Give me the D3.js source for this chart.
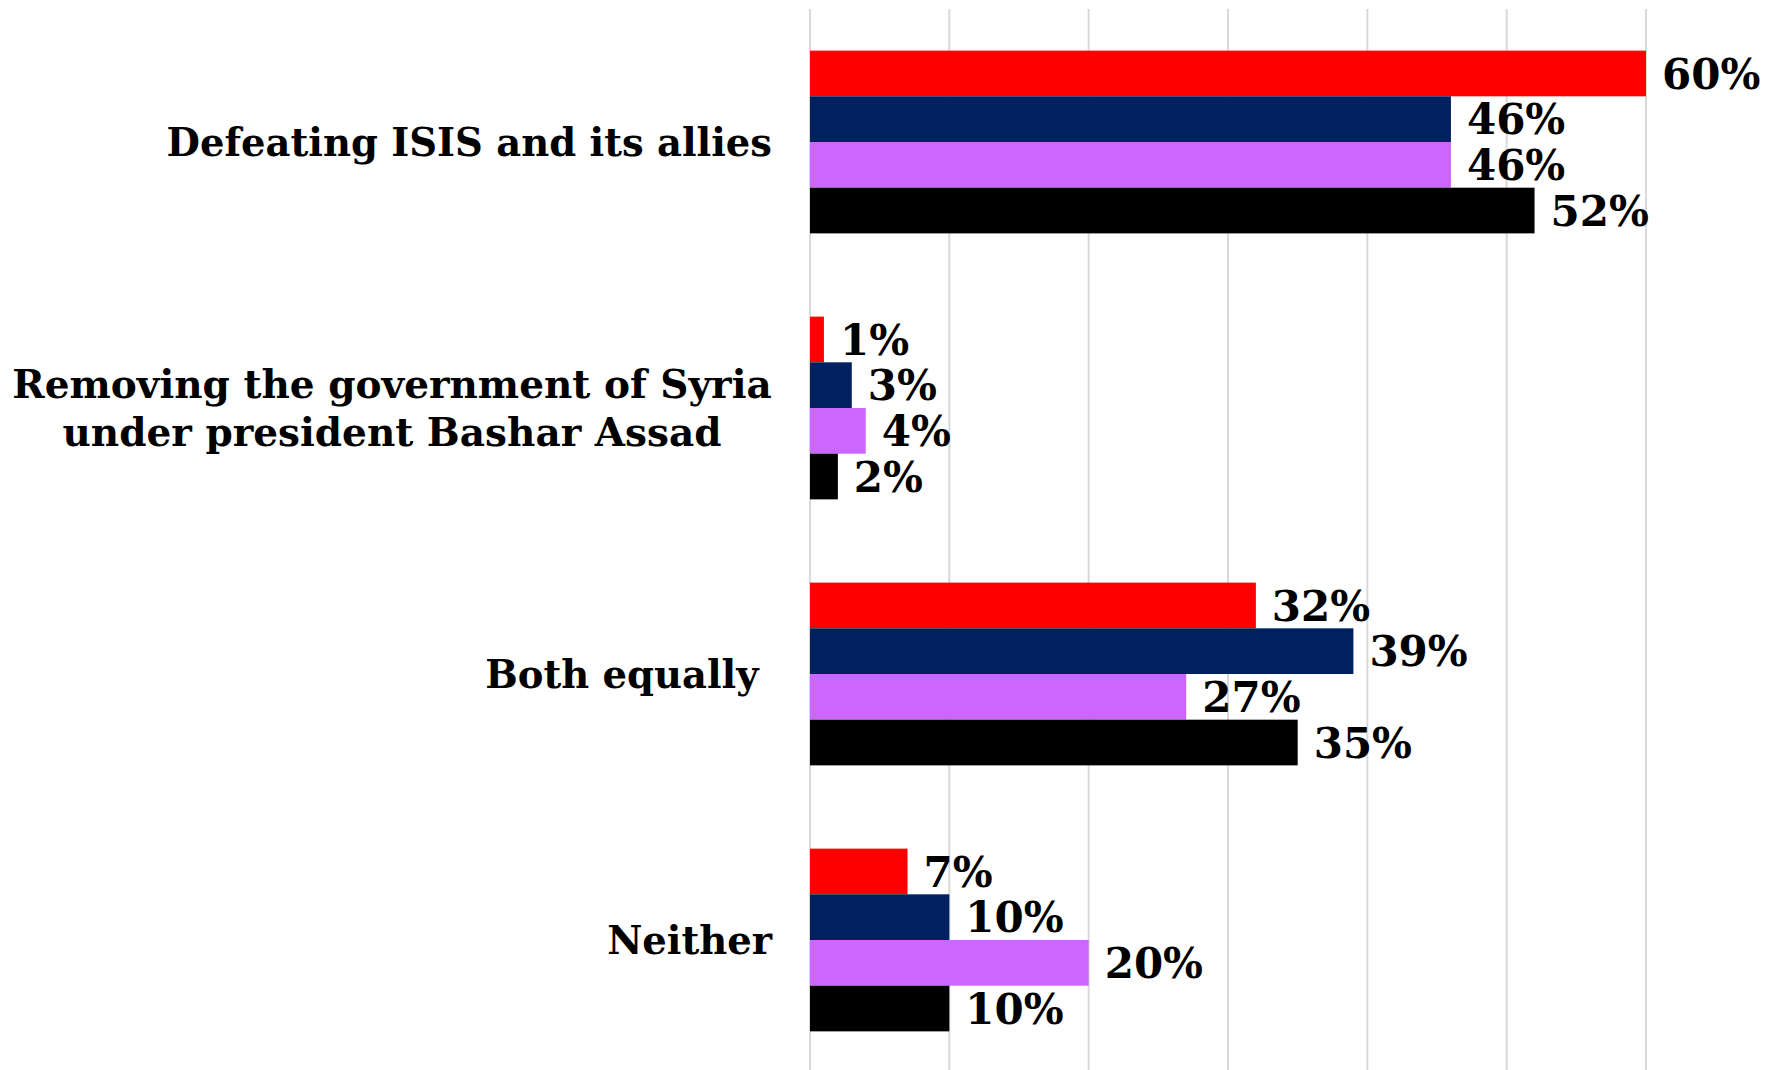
<!DOCTYPE html>
<html>
<head>
<meta charset="utf-8">
<script src="https://cdn.jsdelivr.net/npm/d3@7"></script>
<style>
  html, body { margin: 0; padding: 0; background: #fff; }
  svg { display: block; }
  text { white-space: pre; }
</style>
</head>
<body>
<svg id="chart" width="1790" height="1070"></svg>
<script>
// ---- data ----
const categories = [
  ["Defeating ISIS and its allies"],
  ["Removing the government of Syria", "under president Bashar Assad"],
  ["Both equally "],
  ["Neither"]
];
const seriesNames = ["Series 1", "Series 2", "Series 3", "Series 4"];
const seriesColors = ["#FF0000", "#002060", "#CC66FF", "#000000"];
const series1 = [60, 1, 32, 7];
const series2 = [46, 3, 39, 10];
const series3 = [46, 4, 27, 20];
const series4 = [52, 2, 35, 10];
const xTicks = [0, 10, 20, 30, 40, 50, 60];

const seriesValues = [series1, series2, series3, series4];
const catKeys = categories.map((c, i) => "c" + i);

const svg = d3.select("#chart");

const x = d3.scaleLinear().domain([0, 60]).range([810, 1646]);
const y = d3.scaleBand().domain(catKeys).range([9, 1073])
  .paddingInner(0.313).paddingOuter(0.1565);
const ys = d3.scaleBand().domain(seriesNames).range([0, y.bandwidth()]);

// gridlines
svg.append("g").selectAll("line").data(xTicks).join("line")
  .attr("x1", d => x(d)).attr("x2", d => x(d))
  .attr("y1", 9).attr("y2", 1070)
  .attr("stroke", "#d9d9d9").attr("stroke-width", 2);

// bars
const groups = svg.append("g").selectAll("g").data(catKeys).join("g")
  .attr("transform", d => `translate(0,${y(d)})`);

groups.each(function(k, ci) {
  const g = d3.select(this);
  seriesNames.forEach((s, si) => {
    const v = seriesValues[si][ci];
    g.append("rect")
      .attr("x", x(0))
      .attr("y", ys(s))
      .attr("width", x(v) - x(0))
      .attr("height", ys.bandwidth())
      .attr("fill", seriesColors[si]);
    g.append("text")
      .attr("x", x(v) + 16)
      .attr("y", ys(s) + ys.bandwidth() / 2)
      .attr("dy", "0.36em")
      .attr("font-family", "'DejaVu Serif', serif")
      .attr("font-weight", "bold")
      .attr("font-size", 42)
      .attr("fill", "#000")
      .text(v + "%");
  });
});

// category labels
catKeys.forEach((k, ci) => {
  const lines = categories[ci];
  const multi = lines.length > 1;
  const cy = y(k) + y.bandwidth() / 2;
  const lh = 48;
  const t = svg.append("text")
    .attr("text-anchor", multi ? "middle" : "end")
    .attr("font-family", "'DejaVu Serif', serif")
    .attr("font-weight", "bold")
    .attr("font-size", multi ? 39 : 38.5)
    .attr("fill", "#000");
  lines.forEach((ln, li) => {
    t.append("tspan")
      .attr("x", multi ? 392 : 772)
      .attr("y", cy + (li - (lines.length - 1) / 2) * lh)
      .attr("dy", "0.36em")
      .text(ln);
  });
});
</script>
</body>
</html>
